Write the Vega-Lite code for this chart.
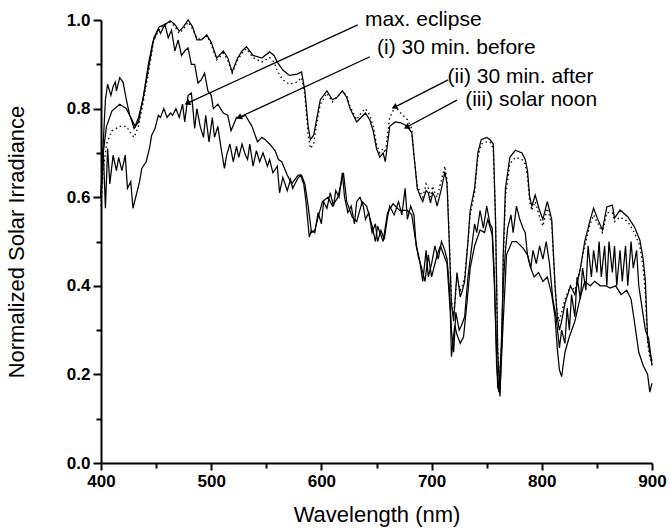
{
"$schema": "https://vega.github.io/schema/vega-lite/v6.json",
"width": 551, "height": 443,
"autosize": {"type": "none"},
"padding": {"left": 101, "top": 20, "right": 18, "bottom": 68},
"config": {"view": {"stroke": null}, "font": "Liberation Sans"},
"datasets": {
"noon": [
{"wl":400,"value":0.60},{"wl":402,"value":0.70},{"wl":405,"value":0.76},{"wl":410,"value":0.795},{"wl":417,"value":0.81},{"wl":423,"value":0.80},{"wl":427,"value":0.78},{"wl":430,"value":0.755},{"wl":434,"value":0.77},{"wl":438,"value":0.82},{"wl":443,"value":0.89},{"wl":448,"value":0.96},{"wl":453,"value":0.985},{"wl":458,"value":0.99},{"wl":463,"value":0.998},{"wl":467,"value":0.99},{"wl":471,"value":0.975},{"wl":475,"value":0.985},{"wl":479,"value":1.0},{"wl":483,"value":0.985},{"wl":487,"value":0.955},{"wl":491,"value":0.955},{"wl":496,"value":0.966},{"wl":500,"value":0.95},{"wl":505,"value":0.914},{"wl":511,"value":0.93},{"wl":515,"value":0.915},{"wl":519,"value":0.883},{"wl":524,"value":0.914},{"wl":528,"value":0.93},{"wl":532,"value":0.94},{"wl":538,"value":0.92},{"wl":546,"value":0.914},{"wl":553,"value":0.928},{"wl":557,"value":0.92},{"wl":560,"value":0.905},{"wl":565,"value":0.887},{"wl":571,"value":0.875},{"wl":578,"value":0.878},{"wl":582,"value":0.883},{"wl":585,"value":0.84},{"wl":588,"value":0.76},{"wl":590,"value":0.73},{"wl":593,"value":0.74},{"wl":596,"value":0.78},{"wl":599,"value":0.82},{"wl":605,"value":0.84},{"wl":610,"value":0.82},{"wl":614,"value":0.825},{"wl":619,"value":0.84},{"wl":623,"value":0.825},{"wl":626,"value":0.80},{"wl":629,"value":0.785},{"wl":632,"value":0.77},{"wl":636,"value":0.78},{"wl":640,"value":0.79},{"wl":644,"value":0.774},{"wl":647,"value":0.75},{"wl":650,"value":0.71},{"wl":653,"value":0.69},{"wl":656,"value":0.70},{"wl":658,"value":0.68},{"wl":660,"value":0.72},{"wl":662,"value":0.76},{"wl":667,"value":0.77},{"wl":672,"value":0.768},{"wl":678,"value":0.76},{"wl":682,"value":0.745},{"wl":685,"value":0.67},{"wl":687,"value":0.62},{"wl":690,"value":0.60},{"wl":692,"value":0.59},{"wl":695,"value":0.615},{"wl":697,"value":0.61},{"wl":699,"value":0.587},{"wl":701,"value":0.61},{"wl":703,"value":0.60},{"wl":705,"value":0.58},{"wl":709,"value":0.62},{"wl":712,"value":0.657},{"wl":714,"value":0.63},{"wl":716,"value":0.50},{"wl":718,"value":0.36},{"wl":720,"value":0.32},{"wl":723,"value":0.43},{"wl":726,"value":0.375},{"wl":728,"value":0.39},{"wl":730,"value":0.41},{"wl":733,"value":0.50},{"wl":735,"value":0.57},{"wl":739,"value":0.62},{"wl":742,"value":0.70},{"wl":745,"value":0.73},{"wl":750,"value":0.735},{"wl":753,"value":0.73},{"wl":756,"value":0.72},{"wl":758,"value":0.55},{"wl":760,"value":0.25},{"wl":762,"value":0.15},{"wl":764,"value":0.30},{"wl":765,"value":0.47},{"wl":767,"value":0.62},{"wl":771,"value":0.69},{"wl":776,"value":0.706},{"wl":782,"value":0.70},{"wl":785,"value":0.685},{"wl":787,"value":0.66},{"wl":789,"value":0.60},{"wl":791,"value":0.58},{"wl":794,"value":0.605},{"wl":798,"value":0.57},{"wl":801,"value":0.55},{"wl":805,"value":0.59},{"wl":809,"value":0.55},{"wl":812,"value":0.40},{"wl":814,"value":0.33},{"wl":816,"value":0.30},{"wl":818,"value":0.32},{"wl":821,"value":0.36},{"wl":826,"value":0.40},{"wl":830,"value":0.38},{"wl":835,"value":0.44},{"wl":839,"value":0.50},{"wl":844,"value":0.55},{"wl":847,"value":0.575},{"wl":850,"value":0.555},{"wl":855,"value":0.526},{"wl":859,"value":0.578},{"wl":864,"value":0.582},{"wl":866,"value":0.553},{"wl":871,"value":0.571},{"wl":878,"value":0.556},{"wl":884,"value":0.533},{"wl":889,"value":0.503},{"wl":892,"value":0.46},{"wl":894,"value":0.41},{"wl":896,"value":0.28},{"wl":898,"value":0.25},{"wl":900,"value":0.23}
],
"after": [
{"wl":400,"value":0.58},{"wl":402,"value":0.66},{"wl":405,"value":0.72},{"wl":410,"value":0.75},{"wl":417,"value":0.76},{"wl":423,"value":0.76},{"wl":427,"value":0.745},{"wl":430,"value":0.735},{"wl":434,"value":0.76},{"wl":438,"value":0.81},{"wl":443,"value":0.88},{"wl":448,"value":0.955},{"wl":453,"value":0.98},{"wl":458,"value":0.99},{"wl":463,"value":0.995},{"wl":467,"value":0.985},{"wl":471,"value":0.97},{"wl":475,"value":0.98},{"wl":479,"value":0.995},{"wl":483,"value":0.98},{"wl":487,"value":0.96},{"wl":491,"value":0.955},{"wl":496,"value":0.965},{"wl":500,"value":0.945},{"wl":505,"value":0.91},{"wl":511,"value":0.925},{"wl":515,"value":0.91},{"wl":519,"value":0.88},{"wl":524,"value":0.91},{"wl":528,"value":0.925},{"wl":532,"value":0.935},{"wl":538,"value":0.915},{"wl":546,"value":0.905},{"wl":553,"value":0.915},{"wl":557,"value":0.905},{"wl":560,"value":0.885},{"wl":565,"value":0.865},{"wl":571,"value":0.855},{"wl":578,"value":0.86},{"wl":582,"value":0.87},{"wl":585,"value":0.83},{"wl":588,"value":0.74},{"wl":590,"value":0.71},{"wl":593,"value":0.72},{"wl":596,"value":0.77},{"wl":599,"value":0.81},{"wl":605,"value":0.835},{"wl":610,"value":0.815},{"wl":614,"value":0.825},{"wl":619,"value":0.84},{"wl":623,"value":0.83},{"wl":626,"value":0.805},{"wl":629,"value":0.79},{"wl":632,"value":0.775},{"wl":636,"value":0.79},{"wl":640,"value":0.80},{"wl":644,"value":0.785},{"wl":647,"value":0.76},{"wl":650,"value":0.72},{"wl":653,"value":0.70},{"wl":656,"value":0.71},{"wl":658,"value":0.70},{"wl":660,"value":0.74},{"wl":662,"value":0.78},{"wl":667,"value":0.805},{"wl":672,"value":0.79},{"wl":678,"value":0.775},{"wl":682,"value":0.755},{"wl":685,"value":0.67},{"wl":687,"value":0.625},{"wl":690,"value":0.61},{"wl":692,"value":0.60},{"wl":695,"value":0.63},{"wl":697,"value":0.62},{"wl":699,"value":0.60},{"wl":701,"value":0.625},{"wl":703,"value":0.61},{"wl":705,"value":0.60},{"wl":709,"value":0.64},{"wl":712,"value":0.67},{"wl":714,"value":0.64},{"wl":716,"value":0.51},{"wl":718,"value":0.37},{"wl":720,"value":0.33},{"wl":723,"value":0.42},{"wl":726,"value":0.39},{"wl":728,"value":0.40},{"wl":730,"value":0.42},{"wl":733,"value":0.50},{"wl":735,"value":0.56},{"wl":739,"value":0.61},{"wl":742,"value":0.69},{"wl":745,"value":0.72},{"wl":750,"value":0.725},{"wl":753,"value":0.725},{"wl":756,"value":0.71},{"wl":758,"value":0.55},{"wl":760,"value":0.26},{"wl":762,"value":0.17},{"wl":764,"value":0.30},{"wl":765,"value":0.45},{"wl":767,"value":0.60},{"wl":771,"value":0.675},{"wl":776,"value":0.69},{"wl":782,"value":0.685},{"wl":785,"value":0.675},{"wl":787,"value":0.645},{"wl":789,"value":0.59},{"wl":791,"value":0.57},{"wl":794,"value":0.59},{"wl":798,"value":0.555},{"wl":801,"value":0.535},{"wl":805,"value":0.575},{"wl":809,"value":0.54},{"wl":812,"value":0.40},{"wl":814,"value":0.34},{"wl":816,"value":0.32},{"wl":818,"value":0.34},{"wl":821,"value":0.37},{"wl":826,"value":0.40},{"wl":830,"value":0.39},{"wl":835,"value":0.44},{"wl":839,"value":0.49},{"wl":844,"value":0.54},{"wl":847,"value":0.56},{"wl":850,"value":0.545},{"wl":855,"value":0.52},{"wl":859,"value":0.565},{"wl":864,"value":0.565},{"wl":866,"value":0.545},{"wl":871,"value":0.555},{"wl":878,"value":0.545},{"wl":884,"value":0.52},{"wl":889,"value":0.49},{"wl":892,"value":0.44},{"wl":894,"value":0.38},{"wl":896,"value":0.27},{"wl":898,"value":0.24},{"wl":900,"value":0.22}
],
"before": [
{"wl":400,"value":0.60},{"wl":402,"value":0.72},{"wl":404,"value":0.82},{"wl":406,"value":0.855},{"wl":409,"value":0.83},{"wl":411,"value":0.85},{"wl":413,"value":0.86},{"wl":414,"value":0.84},{"wl":417,"value":0.87},{"wl":420,"value":0.86},{"wl":423,"value":0.82},{"wl":426,"value":0.785},{"wl":431,"value":0.76},{"wl":434,"value":0.78},{"wl":438,"value":0.82},{"wl":443,"value":0.90},{"wl":447,"value":0.95},{"wl":452,"value":0.98},{"wl":454,"value":0.97},{"wl":458,"value":0.99},{"wl":461,"value":0.96},{"wl":464,"value":0.977},{"wl":467,"value":0.93},{"wl":470,"value":0.955},{"wl":473,"value":0.92},{"wl":476,"value":0.93},{"wl":479,"value":0.937},{"wl":482,"value":0.90},{"wl":485,"value":0.90},{"wl":488,"value":0.858},{"wl":491,"value":0.865},{"wl":494,"value":0.88},{"wl":497,"value":0.84},{"wl":500,"value":0.83},{"wl":502,"value":0.80},{"wl":506,"value":0.81},{"wl":511,"value":0.79},{"wl":515,"value":0.785},{"wl":518,"value":0.75},{"wl":523,"value":0.78},{"wl":527,"value":0.78},{"wl":531,"value":0.785},{"wl":537,"value":0.76},{"wl":542,"value":0.725},{"wl":546,"value":0.735},{"wl":549,"value":0.73},{"wl":553,"value":0.72},{"wl":558,"value":0.705},{"wl":561,"value":0.685},{"wl":564,"value":0.68},{"wl":569,"value":0.65},{"wl":573,"value":0.63},{"wl":576,"value":0.64},{"wl":579,"value":0.65},{"wl":582,"value":0.65},{"wl":585,"value":0.63},{"wl":588,"value":0.58},{"wl":591,"value":0.52},{"wl":594,"value":0.525},{"wl":597,"value":0.555},{"wl":601,"value":0.59},{"wl":606,"value":0.60},{"wl":610,"value":0.58},{"wl":615,"value":0.60},{"wl":620,"value":0.655},{"wl":623,"value":0.59},{"wl":628,"value":0.555},{"wl":632,"value":0.545},{"wl":637,"value":0.59},{"wl":641,"value":0.58},{"wl":646,"value":0.535},{"wl":649,"value":0.50},{"wl":651,"value":0.535},{"wl":656,"value":0.50},{"wl":660,"value":0.565},{"wl":665,"value":0.585},{"wl":671,"value":0.57},{"wl":678,"value":0.57},{"wl":682,"value":0.56},{"wl":685,"value":0.51},{"wl":688,"value":0.465},{"wl":691,"value":0.44},{"wl":694,"value":0.41},{"wl":697,"value":0.47},{"wl":700,"value":0.42},{"wl":705,"value":0.47},{"wl":708,"value":0.49},{"wl":711,"value":0.47},{"wl":714,"value":0.45},{"wl":717,"value":0.34},{"wl":718,"value":0.24},{"wl":721,"value":0.31},{"wl":723,"value":0.29},{"wl":726,"value":0.27},{"wl":729,"value":0.285},{"wl":732,"value":0.36},{"wl":735,"value":0.44},{"wl":739,"value":0.49},{"wl":744,"value":0.526},{"wl":748,"value":0.52},{"wl":751,"value":0.55},{"wl":755,"value":0.515},{"wl":757,"value":0.40},{"wl":760,"value":0.17},{"wl":762,"value":0.16},{"wl":765,"value":0.32},{"wl":768,"value":0.47},{"wl":773,"value":0.50},{"wl":777,"value":0.50},{"wl":783,"value":0.485},{"wl":787,"value":0.47},{"wl":790,"value":0.44},{"wl":793,"value":0.42},{"wl":797,"value":0.43},{"wl":801,"value":0.41},{"wl":805,"value":0.42},{"wl":809,"value":0.38},{"wl":812,"value":0.33},{"wl":814,"value":0.26},{"wl":816,"value":0.21},{"wl":818,"value":0.195},{"wl":821,"value":0.25},{"wl":825,"value":0.285},{"wl":830,"value":0.32},{"wl":835,"value":0.375},{"wl":839,"value":0.41},{"wl":844,"value":0.40},{"wl":848,"value":0.41},{"wl":853,"value":0.40},{"wl":858,"value":0.40},{"wl":862,"value":0.395},{"wl":867,"value":0.40},{"wl":872,"value":0.38},{"wl":877,"value":0.39},{"wl":881,"value":0.37},{"wl":884,"value":0.32},{"wl":888,"value":0.25},{"wl":892,"value":0.22},{"wl":896,"value":0.20},{"wl":898,"value":0.16},{"wl":900,"value":0.18}
],
"eclipse": [
{"wl":400,"value":0.60},{"wl":401,"value":0.67},{"wl":402,"value":0.71},{"wl":404,"value":0.575},{"wl":406,"value":0.71},{"wl":408,"value":0.63},{"wl":411,"value":0.695},{"wl":414,"value":0.66},{"wl":416,"value":0.69},{"wl":419,"value":0.66},{"wl":422,"value":0.695},{"wl":424,"value":0.62},{"wl":427,"value":0.635},{"wl":429,"value":0.575},{"wl":432,"value":0.605},{"wl":435,"value":0.635},{"wl":437,"value":0.665},{"wl":441,"value":0.68},{"wl":444,"value":0.71},{"wl":446,"value":0.74},{"wl":449,"value":0.755},{"wl":452,"value":0.785},{"wl":454,"value":0.78},{"wl":457,"value":0.80},{"wl":460,"value":0.78},{"wl":463,"value":0.79},{"wl":465,"value":0.785},{"wl":468,"value":0.80},{"wl":471,"value":0.78},{"wl":474,"value":0.81},{"wl":476,"value":0.77},{"wl":479,"value":0.83},{"wl":482,"value":0.835},{"wl":483,"value":0.81},{"wl":485,"value":0.755},{"wl":487,"value":0.80},{"wl":490,"value":0.76},{"wl":493,"value":0.735},{"wl":495,"value":0.785},{"wl":498,"value":0.725},{"wl":501,"value":0.78},{"wl":503,"value":0.735},{"wl":506,"value":0.76},{"wl":509,"value":0.71},{"wl":512,"value":0.665},{"wl":514,"value":0.695},{"wl":517,"value":0.72},{"wl":520,"value":0.68},{"wl":523,"value":0.715},{"wl":525,"value":0.69},{"wl":528,"value":0.72},{"wl":531,"value":0.695},{"wl":533,"value":0.685},{"wl":535,"value":0.72},{"wl":538,"value":0.67},{"wl":541,"value":0.705},{"wl":544,"value":0.68},{"wl":547,"value":0.70},{"wl":551,"value":0.67},{"wl":553,"value":0.685},{"wl":556,"value":0.655},{"wl":560,"value":0.67},{"wl":562,"value":0.61},{"wl":565,"value":0.645},{"wl":569,"value":0.615},{"wl":572,"value":0.64},{"wl":574,"value":0.62},{"wl":578,"value":0.64},{"wl":581,"value":0.65},{"wl":584,"value":0.63},{"wl":586,"value":0.59},{"wl":589,"value":0.51},{"wl":591,"value":0.525},{"wl":594,"value":0.52},{"wl":597,"value":0.565},{"wl":600,"value":0.54},{"wl":602,"value":0.59},{"wl":605,"value":0.575},{"wl":608,"value":0.61},{"wl":611,"value":0.58},{"wl":613,"value":0.615},{"wl":616,"value":0.60},{"wl":619,"value":0.655},{"wl":621,"value":0.60},{"wl":624,"value":0.565},{"wl":627,"value":0.58},{"wl":630,"value":0.54},{"wl":632,"value":0.59},{"wl":635,"value":0.60},{"wl":638,"value":0.58},{"wl":640,"value":0.55},{"wl":643,"value":0.565},{"wl":646,"value":0.52},{"wl":649,"value":0.54},{"wl":651,"value":0.50},{"wl":654,"value":0.525},{"wl":657,"value":0.505},{"wl":660,"value":0.555},{"wl":662,"value":0.58},{"wl":666,"value":0.56},{"wl":670,"value":0.59},{"wl":673,"value":0.56},{"wl":676,"value":0.62},{"wl":678,"value":0.55},{"wl":681,"value":0.58},{"wl":684,"value":0.56},{"wl":686,"value":0.49},{"wl":689,"value":0.46},{"wl":692,"value":0.41},{"wl":695,"value":0.48},{"wl":697,"value":0.42},{"wl":700,"value":0.45},{"wl":703,"value":0.49},{"wl":706,"value":0.46},{"wl":709,"value":0.50},{"wl":712,"value":0.48},{"wl":714,"value":0.46},{"wl":716,"value":0.40},{"wl":718,"value":0.30},{"wl":720,"value":0.25},{"wl":722,"value":0.34},{"wl":725,"value":0.30},{"wl":727,"value":0.31},{"wl":730,"value":0.33},{"wl":733,"value":0.42},{"wl":736,"value":0.48},{"wl":739,"value":0.54},{"wl":741,"value":0.52},{"wl":744,"value":0.57},{"wl":747,"value":0.53},{"wl":750,"value":0.58},{"wl":753,"value":0.54},{"wl":755,"value":0.53},{"wl":757,"value":0.42},{"wl":759,"value":0.22},{"wl":761,"value":0.16},{"wl":763,"value":0.25},{"wl":765,"value":0.40},{"wl":767,"value":0.48},{"wl":769,"value":0.53},{"wl":772,"value":0.56},{"wl":774,"value":0.52},{"wl":777,"value":0.58},{"wl":780,"value":0.55},{"wl":783,"value":0.53},{"wl":785,"value":0.52},{"wl":787,"value":0.47},{"wl":790,"value":0.44},{"wl":792,"value":0.48},{"wl":795,"value":0.45},{"wl":798,"value":0.49},{"wl":801,"value":0.46},{"wl":804,"value":0.50},{"wl":807,"value":0.45},{"wl":810,"value":0.37},{"wl":813,"value":0.33},{"wl":816,"value":0.26},{"wl":818,"value":0.30},{"wl":821,"value":0.27},{"wl":823,"value":0.35},{"wl":825,"value":0.30},{"wl":827,"value":0.38},{"wl":830,"value":0.33},{"wl":832,"value":0.42},{"wl":835,"value":0.37},{"wl":837,"value":0.44},{"wl":840,"value":0.39},{"wl":842,"value":0.49},{"wl":845,"value":0.42},{"wl":847,"value":0.48},{"wl":850,"value":0.43},{"wl":852,"value":0.50},{"wl":854,"value":0.42},{"wl":857,"value":0.49},{"wl":859,"value":0.40},{"wl":861,"value":0.50},{"wl":864,"value":0.43},{"wl":866,"value":0.49},{"wl":868,"value":0.40},{"wl":871,"value":0.48},{"wl":873,"value":0.41},{"wl":876,"value":0.49},{"wl":878,"value":0.40},{"wl":881,"value":0.50},{"wl":883,"value":0.44},{"wl":886,"value":0.48},{"wl":888,"value":0.40},{"wl":891,"value":0.35},{"wl":894,"value":0.30},{"wl":897,"value":0.28},{"wl":900,"value":0.22}
],
"labels": [
{"label": "max. eclipse", "wl": 639.5, "value": 1.0},
{"label": "(i) 30 min. before", "wl": 650.5, "value": 0.937},
{"label": "(ii) 30 min. after", "wl": 714.5, "value": 0.871},
{"label": "(iii) solar noon", "wl": 730.5, "value": 0.819}
],
"arrows": [
{"label": "max. eclipse", "wl": 633, "value": 0.989, "wl2": 479, "value2": 0.813},
{"label": "(i) 30 min. before", "wl": 644, "value": 0.917, "wl2": 526, "value2": 0.781},
{"label": "(ii) 30 min. after", "wl": 715, "value": 0.865, "wl2": 667, "value2": 0.804},
{"label": "(iii) solar noon", "wl": 723, "value": 0.819, "wl2": 678, "value2": 0.759}
]
},
"resolve": {"axis": {"x": "independent", "y": "independent"}},
"layer": [
{
"data": {"name": "noon"},
"mark": {"type": "line", "color": "black", "strokeWidth": 1.25},
"encoding": {
"x": {"field": "wl", "type": "quantitative", "scale": {"domain": [400, 900], "nice": false},
"axis": {"orient": "bottom", "values": [400,500,600,700,800,900], "labelFlush": false, "title": "Wavelength (nm)", "titleFontSize": 22, "titleFontWeight": "normal", "titleColor": "black", "titlePadding": 15, "labelFontSize": 17, "labelFontWeight": "bold", "labelColor": "black", "labelPadding": 3, "tickSize": 7, "tickWidth": 2, "tickColor": "black", "domainWidth": 2, "domainColor": "black", "grid": false}},
"y": {"field": "value", "type": "quantitative", "scale": {"domain": [0, 1], "nice": false},
"axis": {"orient": "left", "values": [0,0.2,0.4,0.6,0.8,1.0], "labelFlush": false, "format": ".1f", "title": "Normalized Solar Irradiance", "titleFontSize": 22, "titleFontWeight": "normal", "titleColor": "black", "titlePadding": 38, "labelFontSize": 17, "labelFontWeight": "bold", "labelColor": "black", "labelPadding": 3, "tickSize": 8, "tickWidth": 2, "tickColor": "black", "domainWidth": 2, "domainColor": "black", "grid": false}}
}
},
{
"data": {"name": "after"},
"mark": {"type": "line", "color": "black", "strokeWidth": 1.3, "strokeDash": [1.5, 3]},
"encoding": {
"x": {"field": "wl", "type": "quantitative", "scale": {"domain": [400, 900], "nice": false},
"axis": {"orient": "bottom", "values": [450,550,650,750,850], "labels": false, "title": null, "domain": false, "tickSize": 5, "tickWidth": 2, "tickColor": "black", "grid": false}},
"y": {"field": "value", "type": "quantitative", "scale": {"domain": [0, 1], "nice": false},
"axis": {"orient": "left", "values": [0.1,0.3,0.5,0.7,0.9], "labels": false, "title": null, "domain": false, "tickSize": 5, "tickWidth": 2, "tickColor": "black", "grid": false}}
}
},
{
"data": {"name": "before"},
"mark": {"type": "line", "color": "black", "strokeWidth": 1.25},
"encoding": {
"x": {"field": "wl", "type": "quantitative", "scale": {"domain": [400, 900], "nice": false}, "axis": null},
"y": {"field": "value", "type": "quantitative", "scale": {"domain": [0, 1], "nice": false}, "axis": null}
}
},
{
"data": {"name": "eclipse"},
"mark": {"type": "line", "color": "black", "strokeWidth": 1.25},
"encoding": {
"x": {"field": "wl", "type": "quantitative", "scale": {"domain": [400, 900], "nice": false}, "axis": null},
"y": {"field": "value", "type": "quantitative", "scale": {"domain": [0, 1], "nice": false}, "axis": null}
}
},
{
"data": {"name": "arrows"},
"mark": {"type": "rule", "color": "black", "strokeWidth": 1.3},
"encoding": {
"x": {"field": "wl", "type": "quantitative", "scale": {"domain": [400, 900], "nice": false}, "axis": null},
"y": {"field": "value", "type": "quantitative", "scale": {"domain": [0, 1], "nice": false}, "axis": null},
"x2": {"field": "wl2"},
"y2": {"field": "value2"}
}
},
{
"data": {"name": "arrows"},
"mark": {"type": "point", "shape": "triangle", "filled": true, "color": "black", "size": 45, "angle": 244, "opacity": 1},
"encoding": {
"x": {"field": "wl2", "type": "quantitative", "scale": {"domain": [400, 900], "nice": false}, "axis": null},
"y": {"field": "value2", "type": "quantitative", "scale": {"domain": [0, 1], "nice": false}, "axis": null}
}
},
{
"data": {"name": "labels"},
"mark": {"type": "text", "align": "left", "baseline": "middle", "fontSize": 21, "color": "black"},
"encoding": {
"x": {"field": "wl", "type": "quantitative", "scale": {"domain": [400, 900], "nice": false}, "axis": null},
"y": {"field": "value", "type": "quantitative", "scale": {"domain": [0, 1], "nice": false}, "axis": null},
"text": {"field": "label"}
}
}
]
}
